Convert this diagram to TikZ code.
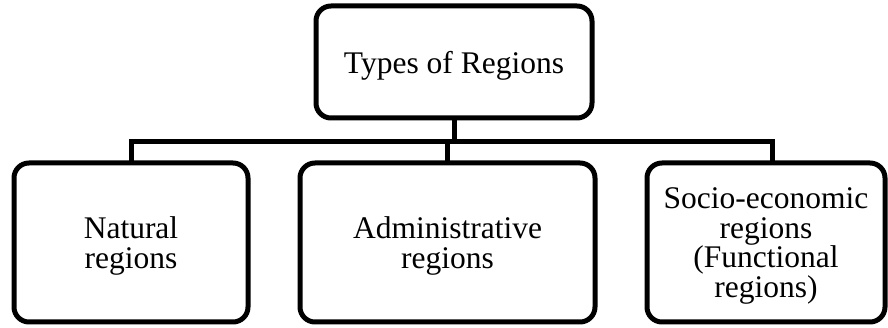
\documentclass[tikz,border=0pt]{standalone}
\usepackage{fontspec}
\setmainfont{Liberation Serif}
\usepackage{tikz}
\usetikzlibrary{positioning, calc}

\begin{document}
\begin{tikzpicture}[
    x=1pt, y=1pt,
    box/.style={draw, rounded corners=15pt, line width=5pt, fill=white, inner sep=0pt, outer sep=0pt, align=center, text depth=-4pt, font=\fontsize{31.5}{29.5}\selectfont},
    conn/.style={line width=5pt}
]
    \useasboundingbox (0,0) rectangle (888,328);

    \node[box, minimum width=276pt, minimum height=112pt] (types)   at (454,266)  {Types of Regions};
    \node[box, minimum width=234pt, minimum height=159pt] (natural) at (131,85.5)  {Natural\\regions};
    \node[box, minimum width=295pt, minimum height=159pt] (admin)   at (447.5,85.5) {Administrative\\regions};
    \node[box, minimum width=238pt, minimum height=159pt] (socio)   at (766,85.5)  {Socio-economic\\regions\\(Functional\\regions)};

    \draw[conn] (types.south) -- ++(0,-24) coordinate (bus);
    \draw[conn] (natural.north) |- (bus) -| ([xshift=6pt]socio.north);
    \draw[conn] (admin.north) -- (admin.north |- bus);
\end{tikzpicture}
\end{document}
